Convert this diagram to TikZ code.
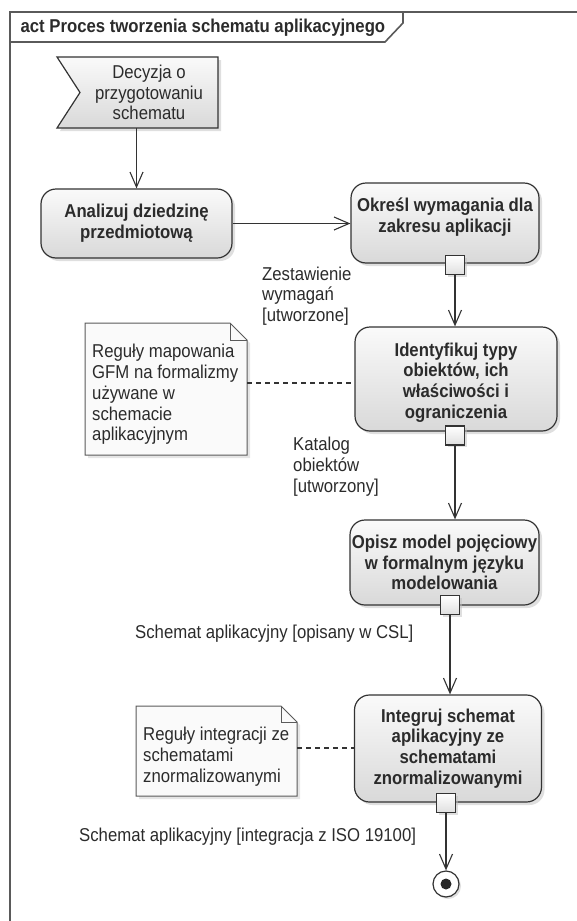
\documentclass[tikz,border=0pt]{standalone}
\usepackage{fontspec}
\setmainfont{Liberation Sans}[FakeStretch=0.9]
\usepackage{tikz}
\usetikzlibrary{arrows.meta,shadows}

\definecolor{linegray}{HTML}{333333}
\definecolor{framegray}{HTML}{5A5A5A}
\definecolor{txtgray}{HTML}{2B2B2B}

\begin{document}
\begin{tikzpicture}[x=1pt,y=-1pt,
    every node/.style={font=\fontsize{18.6}{20.8}\selectfont,text=txtgray},
    frame/.style={draw=framegray,line width=1.6pt},
    action/.style={draw=linegray,line width=1.2pt,rounded corners=15pt,top color=gray!4,bottom color=gray!30,
      drop shadow={shadow xshift=3pt,shadow yshift=-3pt,fill=gray!50},align=center,inner sep=0pt,
      font=\fontsize{18.6}{20.8}\selectfont\bfseries},
    pinbox/.style={draw=linegray,line width=1.1pt,top color=white,bottom color=gray!25,minimum size=19pt,inner sep=0pt,
      drop shadow={shadow xshift=2pt,shadow yshift=-2pt,fill=gray!50}},
    notebox/.style={draw=framegray,line width=1pt,fill=gray!4,drop shadow={shadow xshift=3pt,shadow yshift=-3pt,fill=gray!40}},
    signal/.style={draw=linegray,line width=1.2pt,top color=gray!4,bottom color=gray!30,
      drop shadow={shadow xshift=3pt,shadow yshift=-3pt,fill=gray!50}},
    flow/.style={draw=linegray,line width=1.1pt,-{Straight Barb[length=15pt,width=13pt]}},
    tieline/.style={draw=linegray,line width=1.1pt,dash pattern=on 5pt off 4pt},
    lbl/.style={align=left,inner sep=0pt},
    finalnode/.style={circle,draw=linegray,line width=1.2pt,fill=white,minimum size=26pt,inner sep=0pt,
      drop shadow={shadow xshift=2pt,shadow yshift=-2pt,fill=gray!50}}
  ]
  \useasboundingbox (0,0) rectangle (577,921);
  \clip (0,0) rectangle (577,921);

  \draw[frame] (590,12) -- (10,12) -- (10,935);
  \draw[frame] (10,42) -- (385,42) -- (403,23) -- (403,12);
  \node[anchor=base west,font=\fontsize{18.6}{20.8}\selectfont\bfseries] (title) at (17,32.5) {act Proces tworzenia schematu aplikacyjnego};

  \draw[signal] (57,57) -- (218,57) -- (218,128) -- (57,128) -- (80,92.5) -- cycle;
  \node[align=center,inner sep=0pt,minimum width=138pt,minimum height=71pt] (decyzja) at (149,92.5) {Decyzja o\\przygotowaniu\\schematu};

  \node[action,minimum width=191pt,minimum height=69pt] (analizuj) at (136.5,223.5) {Analizuj dziedzinę\\przedmiotową};
  \node[action,minimum width=188pt,minimum height=80pt,text depth=14.9pt] (okresl) at (445,223) {Określ wymagania dla\\zakresu aplikacji};
  \node[action,minimum width=202pt,minimum height=104pt,text height=83pt] (ident) at (456,379) {Identyfikuj typy\\obiektów, ich\\właściwości i\\ograniczenia};
  \node[action,minimum width=189pt,minimum height=85pt] (opisz) at (444.5,562.5) {Opisz model pojęciowy\\w formalnym języku\\modelowania};
  \node[action,minimum width=187pt,minimum height=107pt] (integruj) at (448,748.5) {Integruj schemat\\aplikacyjny ze\\schematami\\znormalizowanymi};

  \node[pinbox] (pin1) at (455,265) {};
  \node[pinbox] (pin2) at (455,435.5) {};
  \node[pinbox] (pin3) at (450,605) {};
  \node[pinbox] (pin4) at (446,803) {};
  \node[finalnode] (end) at (446,884) {};
  \fill[black!85] (end) circle (5.5pt);

  \draw[notebox] (85,323) -- (230,323) -- (247,340) -- (247,455) -- (85,455) -- cycle;
  \draw[framegray,line width=1pt] (230,323) -- (230,340) -- (247,340);
  \node[lbl,anchor=north west] (note1) at (92,344) {Reguły mapowania\\GFM na formalizmy\\używane w\\schemacie\\aplikacyjnym};
  \coordinate (note1edge) at (247,383);

  \draw[notebox] (136,706) -- (281,706) -- (297,722) -- (297,796) -- (136,796) -- cycle;
  \draw[framegray,line width=1pt] (281,706) -- (281,722) -- (297,722);
  \node[lbl,anchor=north west] (note2) at (143,727) {Reguły integracji ze\\schematami\\znormalizowanymi};
  \coordinate (note2edge) at (297,748);

  \node[lbl,anchor=north west] (zest) at (262,266.5) {Zestawienie\\wymagań\\{[utworzone]}};
  \node[lbl,anchor=north west] (katalog) at (293,437) {Katalog\\obiektów\\{[utworzony]}};
  \node[lbl,anchor=base west] (csl) at (135,638) {Schemat aplikacyjny [opisany w CSL]};
  \node[lbl,anchor=base west] (iso) at (79,841) {Schemat aplikacyjny [integracja z ISO 19100]};

  \draw[flow] (analizuj.north |- decyzja.south) -- (analizuj.north);
  \draw[flow] (analizuj.east) -- (okresl.west |- analizuj.east);
  \draw[flow] (pin1.south) -- (pin1 |- ident.north);
  \draw[flow] (pin2.south) -- (pin2 |- opisz.north);
  \draw[flow] (pin3.south) -- (pin3 |- integruj.north);
  \draw[flow] (pin4.south) -- (end.north);
  \draw[tieline] (note1edge) -- (ident.west |- note1edge);
  \draw[tieline] (note2edge) -- (integruj.west |- note2edge);
\end{tikzpicture}
\end{document}
